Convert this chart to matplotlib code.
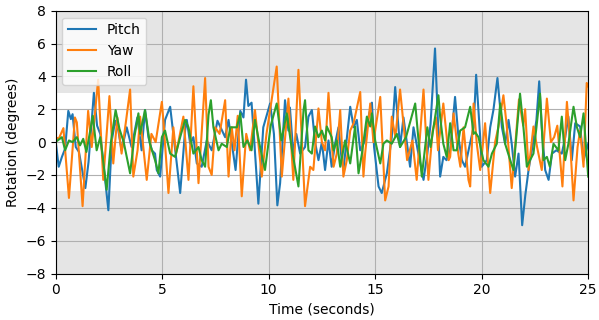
import matplotlib.pyplot as plt

# Turning points (time in s, rotation in degrees).
pitch_t = [0, 0.15, 0.3, 0.45, 0.6, 0.72, 0.8, 0.95, 1.1, 1.4, 1.55, 1.8, 1.95, 2.1, 2.48,
           2.64, 2.8, 2.95, 3.1, 3.34, 3.57, 3.84, 4.04,
           4.2, 4.36, 4.52, 4.67, 4.75, 4.91, 5.14, 5.38, 5.53, 5.69, 5.85, 6.08, 6.16,
           6.32, 6.47, 6.63, 6.86, 7.1, 7.33, 7.6, 7.96, 8.12, 8.3, 8.45, 8.67, 8.82, 8.94,
           9.05, 9.2, 9.33, 9.52, 9.75, 10.07, 10.25, 10.41, 10.54, 10.77, 10.93, 11.0,
           11.16, 11.3, 11.48, 11.71, 11.87, 12.03, 12.18, 12.34, 12.5, 12.65, 12.81,
           12.96, 13.12, 13.28, 13.43, 13.51, 13.83, 13.99, 14.14, 14.3, 14.53, 14.69,
           14.85, 14.95, 15.16, 15.31, 15.55, 15.78, 15.94, 16.17, 16.33, 16.64, 16.8,
           17.0, 17.27, 17.45, 17.6, 17.81, 18.05, 18.2, 18.35, 18.52, 18.75, 18.91,
           19.07, 19.22, 19.45, 19.62, 19.74, 19.93, 20.0, 20.24, 20.4, 20.55, 20.74,
           20.95, 21.1, 21.26, 21.41, 21.57, 21.73, 21.9, 22.05, 22.2, 22.43, 22.57, 22.7,
           22.82, 22.98, 23.14, 23.3, 23.5, 23.76, 23.92, 24.07, 24.23, 24.39, 24.62,
           24.78, 25.0]
pitch = [0.1, -1.5, -0.9, -0.4, 1.9, 1.4, 1.7, -0.3, -0.6, -2.8, -1.2, 3.0, 1.0, 0.5, -4.15,
         0.1, 1.3, 0.7, -0.5, 0.9, -0.3, 1.5, -0.5,
         1.95, 0.3, -0.5, -0.7, -1.7, -2.1, 1.35, 2.15, 0.5, -1.3, -3.1, 0.7, 1.35,
         -0.1, 0.3, -1.3, -1.5, 0.1, -0.5, 1.3, 0.3, 1.35, -0.3, -1.7, 1.9, 1.5, 3.8,
         2.2, 2.4, 0.0, -3.75, 0.9, 2.35, 0.5, -3.85, -2.5, 2.55, 0.7, 2.1,
         -0.7, 0.5, -0.7, -0.3, 1.55, 1.95, 0.0, -1.1, 0.0, -1.7, 0.1,
         -1.5, -0.1, 0.9, -1.1, -1.7, 2.15, 0.9, 1.35, -0.5, 0.1, 1.55,
         2.4, -0.3, -2.7, -3.1, -1.9, 0.3, 3.35, -0.3, 1.5, -1.5, 0.9,
         -0.5, -2.3, -0.7, 1.1, 5.7, -2.1, -0.9, -1.1, -0.5, 2.75, 0.3,
         -1.1, -1.5, -0.1, 0.9, 4.1, 0.3, -1.5, -1.1, 0.9, 1.95, 3.9,
         0.9, -0.1, 1.35, -0.1, -2.1, -0.7, -5.06, -3.2, -1.7, 0.1, 1.35, 3.7,
         0.9, -1.7, -2.3, -0.7, -0.5, -0.7, 0.3, 1.55, -1.1, 1.15, 0.95,
         -1.1, -0.1]

yaw_t = [0, 0.15, 0.37, 0.63, 0.91, 1.0, 1.27, 1.53, 1.7, 2.0, 2.24, 2.53, 2.71, 2.9, 3.1,
         3.3, 3.5, 3.65, 3.85, 3.97, 4.28, 4.5, 4.7, 4.99, 5.08, 5.3, 5.53, 5.66, 6.0,
         6.24, 6.47, 6.71, 7.02, 7.18, 7.33, 7.49, 7.7, 7.96, 8.12, 8.27, 8.4, 8.55, 8.74,
         8.95, 9.13, 9.36, 9.68, 9.9, 10.38, 10.62, 10.93, 11.16, 11.4, 11.71, 11.95,
         12.1, 12.34, 12.5, 12.65, 12.81, 12.96, 13.05, 13.2, 13.36, 13.51, 13.67, 13.83,
         13.99, 14.3, 14.45, 14.53, 14.77, 14.92, 15.24, 15.47, 15.63, 15.78, 15.95,
         16.17, 16.5, 16.75, 16.95, 17.27, 17.5, 17.7, 17.85, 17.95, 18.2, 18.36, 18.45,
         18.52, 18.68, 18.9, 19.0, 19.15, 19.38, 19.46, 19.62, 19.77, 19.93, 20.16,
         20.4, 20.63, 20.79, 21.02, 21.18, 21.41, 21.75, 21.95, 22.04, 22.2, 22.43,
         22.6, 22.82, 23.06, 23.25, 23.4, 23.55, 23.79, 24.0, 24.15, 24.31, 24.5,
         24.62, 24.78, 24.93, 25.0]
yaw = [0.3, 0.2, 0.85, -3.4, 1.5, 1.2, -3.9, 1.9, -0.3, 3.8, -2.3, 2.8, -1.3, 1.5, -0.7,
       1.2, 3.2, -2.1, -0.5, 1.55, -2.3, 0.5, 0.0, 2.45, 1.0, -3.1, 0.9, -0.7, 1.55,
       -2.3, 3.4, -2.5, 3.9, -1.5, -2.0, 0.9, 0.5, 2.55, -2.1, 0.9, -0.5, 1.6, -3.3,
       0.5, -0.5, 1.95, -2.1, 0.5, 4.6, -2.1, 2.65, -2.3, 4.4, -3.9, -1.5,
       -1.7, 2.05, 0.0, -0.5, 3.0, 0.0, -1.5, -0.7, 1.95, -2.1, -1.1, 0.7,
       1.15, 3.05, -2.1, -0.7, 2.35, 0.0, 2.75, -3.55, -2.7, 1.55, 0.3,
       3.2, -1.1, 0.1, -2.3, 3.2, -2.3, 0.7, 1.5, -0.5, 2.35, 0.3, -1.1,
       -0.9, 1.75, -0.7, -1.5, 0.9, -2.3, -2.7, 2.35, -0.1, -1.7, 1.15,
       -3.1, 0.0, 0.95, 2.85, 0.95, -2.8, 2.6, 1.0, 2.0, -1.7, 0.95,
       -0.3, -1.7, 2.65, 0.0, 0.3, 1.0, -2.7, 2.45, 0.0, -3.55, -0.3,
       0.7, -1.5, 3.6, 3.4]

roll_t = [0, 0.3, 0.45, 0.63, 0.8, 1.0, 1.15, 1.3, 1.45, 1.75, 1.93, 2.1, 2.4, 2.6, 2.82,
          3.0, 3.2, 3.5, 3.7, 3.89, 3.97, 4.2, 4.43, 4.67, 4.83, 4.99, 5.14, 5.38, 5.61,
          5.85, 6.08, 6.24, 6.47, 6.71, 6.86, 7.02, 7.18, 7.29, 7.41, 7.65, 7.8, 8.04,
          8.2, 8.51, 8.67, 8.82, 9.0, 9.2, 9.36, 9.6, 9.83, 10.1, 10.38, 10.6, 10.85,
          11.1, 11.4, 11.64, 11.71, 11.87, 12.03, 12.18, 12.34, 12.5, 12.65, 12.73,
          12.96, 13.05, 13.2, 13.36, 13.59, 13.83, 14.06, 14.22, 14.38, 14.61, 14.77,
          14.85, 15.0, 15.24, 15.39, 15.55, 15.78, 16.02, 16.17, 16.45, 16.88, 17.19,
          17.45, 17.6, 17.97, 18.05, 18.2, 18.36, 18.52, 18.68, 18.83, 18.99, 19.22,
          19.46, 19.62, 19.7, 19.85, 20.08, 20.32, 20.48, 20.71, 20.87, 21.1, 21.34,
          21.49, 21.8, 21.96, 22.12, 22.27, 22.43, 22.57, 22.74, 22.9, 23.06, 23.2,
          23.37, 23.6, 23.76, 23.92, 24.07, 24.31, 24.47, 24.62, 24.78, 25.0]
roll = [0.0, 0.3, -0.5, 0.1, 0.0, 0.3, -0.2, 0.2, -0.6, 1.6, -0.5, 0.3, -2.9, 0.0, 1.95,
        0.8, 0.0, -1.9, 0.3, 1.75, 0.5, 1.95, -0.1, -1.1, -1.9, 0.3, 0.7, -0.7, -0.9,
        0.3, 1.35, 0.9, -0.7, -0.3, -1.1, -1.5, 1.65, 2.55, 0.9, -0.5, -0.1, -0.3,
        0.9, 0.9, 1.75, -0.3, 0.1, -0.5, 1.35, -0.3, -1.7, 1.0, 2.35, 0.1, 1.75,
        -0.5, -2.7, 1.95, 2.55, -0.5, -0.7, 0.95, 0.3, 0.7, 0.1, 0.95,
        0.3, -0.5, 0.1, -1.5, 0.1, -1.3, 0.95, -1.9, -0.7, 1.55, 0.95,
        1.75, 0.1, -1.3, -0.1, 0.1, -0.1, 0.5, -0.3, 0.3, 2.35, -2.1,
        0.9, -0.3, 2.85, 1.55, -0.1, -0.9, 1.15, -0.5, -0.5, 0.7, 0.9,
        2.15, 0.5, 0.6, 0.3, -1.1, -1.5, -0.7, -0.1, 2.35, -0.1, -1.1,
        -1.7, 2.95, 0.9, -1.5, -1.1, -0.7, 0.9, 2.95, -1.1, -0.9, -1.5,
        -0.1, -0.5, 1.55, -1.1, -0.1, 2.15, 0.9, 0.3, 1.75, -2.1]

fig = plt.figure(figsize=(5.99, 3.2), dpi=100)
ax = fig.add_axes([0.0927, 0.1453, 0.8893, 0.8213])

# shaded areas outside the +/-3 degree band
ax.axhspan(3, 8, color='gray', alpha=0.2, lw=0)
ax.axhspan(-8, -3, color='gray', alpha=0.2, lw=0)

ax.plot(pitch_t, pitch, label='Pitch')
ax.plot(yaw_t, yaw, label='Yaw')
ax.plot(roll_t, roll, label='Roll')

ax.set_xlim(0, 25)
ax.set_ylim(-8, 8)
ax.set_xlabel('Time (seconds)')
ax.set_ylabel('Rotation (degrees)')
ax.grid(True)
ax.legend(loc='upper left')

fig.savefig('out.png', dpi=100)
